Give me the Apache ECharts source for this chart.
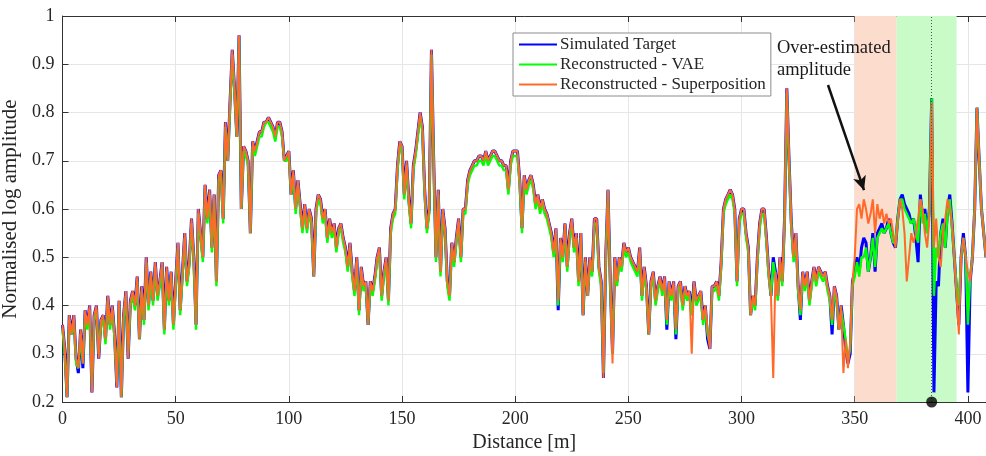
<!DOCTYPE html>
<html>
<head>
<meta charset="utf-8">
<script src="https://cdn.jsdelivr.net/npm/echarts@6/dist/echarts.min.js"></script>
<style>
html,body{margin:0;padding:0;background:#fff;}
#chart{width:986px;height:456px;}
</style>
</head>
<body>
<div id="chart"></div>
<script>
// Sampling step of the profiles (metres per sample)
const stepMetres = 1;

// Simulated Target (blue)
const simulatedTarget = [
0.36,0.31,0.21,0.38,0.34,0.38,0.29,0.26,0.35,0.27,
0.39,0.36,0.40,0.22,0.38,0.40,0.29,0.37,0.38,0.33,
0.42,0.36,0.40,0.34,0.23,0.41,0.21,0.38,0.43,0.29,
0.41,0.43,0.40,0.46,0.33,0.44,0.37,0.50,0.40,0.47,
0.41,0.49,0.42,0.45,0.49,0.35,0.48,0.41,0.47,0.36,
0.45,0.53,0.39,0.47,0.55,0.45,0.49,0.58,0.50,0.36,
0.60,0.55,0.50,0.65,0.58,0.64,0.52,0.63,0.45,0.67,
0.68,0.58,0.78,0.70,0.82,0.93,0.85,0.75,0.96,0.60,
0.73,0.72,0.70,0.55,0.74,0.72,0.74,0.76,0.76,0.78,
0.78,0.79,0.78,0.77,0.75,0.78,0.78,0.76,0.70,0.71,
0.72,0.63,0.68,0.60,0.66,0.61,0.56,0.61,0.56,0.60,
0.58,0.46,0.60,0.63,0.62,0.58,0.60,0.54,0.58,0.55,
0.57,0.52,0.56,0.57,0.54,0.52,0.48,0.53,0.47,0.43,
0.50,0.39,0.48,0.44,0.45,0.36,0.45,0.43,0.46,0.50,
0.52,0.42,0.47,0.50,0.41,0.56,0.59,0.60,0.69,0.74,
0.73,0.63,0.70,0.62,0.57,0.69,0.72,0.76,0.80,0.77,
0.64,0.56,0.60,0.93,0.70,0.50,0.64,0.47,0.60,0.56,
0.45,0.42,0.53,0.49,0.54,0.58,0.50,0.60,0.60,0.66,
0.68,0.69,0.70,0.70,0.71,0.71,0.70,0.72,0.70,0.71,
0.72,0.72,0.71,0.70,0.70,0.69,0.69,0.64,0.70,0.72,
0.72,0.72,0.66,0.56,0.67,0.64,0.66,0.67,0.65,0.61,
0.63,0.60,0.62,0.60,0.59,0.57,0.55,0.51,0.56,0.39,
0.54,0.50,0.57,0.48,0.55,0.58,0.52,0.55,0.45,0.55,
0.38,0.50,0.42,0.50,0.47,0.58,0.58,0.48,0.45,0.25,
0.50,0.64,0.45,0.30,0.50,0.45,0.50,0.48,0.53,0.51,
0.52,0.50,0.49,0.48,0.47,0.52,0.42,0.48,0.44,0.34,
0.45,0.47,0.41,0.44,0.46,0.43,0.46,0.35,0.45,0.42,
0.45,0.33,0.44,0.45,0.40,0.44,0.42,0.43,0.38,0.45,
0.41,0.42,0.43,0.37,0.40,0.33,0.31,0.44,0.44,0.45,
0.42,0.49,0.60,0.62,0.63,0.64,0.63,0.60,0.45,0.58,
0.60,0.60,0.55,0.52,0.38,0.42,0.40,0.50,0.57,0.60,
0.60,0.54,0.47,0.42,0.50,0.47,0.42,0.50,0.45,0.58,
0.85,0.70,0.57,0.50,0.55,0.44,0.37,0.47,0.44,0.47,
0.41,0.45,0.48,0.45,0.48,0.47,0.46,0.47,0.44,0.42,
0.34,0.44,0.42,0.35,0.40,0.36,0.31,0.28,0.30,0.45,
0.47,0.50,0.47,0.52,0.54,0.53,0.47,0.50,0.55,0.47,
0.55,0.56,0.57,0.55,0.56,0.58,0.55,0.53,0.52,0.58,
0.62,0.63,0.61,0.60,0.59,0.57,0.58,0.54,0.49,0.63,
0.58,0.60,0.55,0.60,0.83,0.22,0.45,0.44,0.55,0.58,
0.52,0.60,0.63,0.57,0.50,0.43,0.36,0.50,0.55,0.50,
0.22,0.45,0.50,0.60,0.81,0.70,0.60,0.55,0.50
];

// Reconstructed - VAE (green)
const reconstructedVAE = [
0.35,0.30,0.21,0.37,0.34,0.37,0.28,0.27,0.34,0.28,
0.38,0.35,0.39,0.23,0.37,0.39,0.30,0.36,0.37,0.32,
0.41,0.35,0.39,0.33,0.24,0.40,0.21,0.37,0.42,0.30,
0.40,0.42,0.39,0.45,0.33,0.43,0.36,0.49,0.39,0.46,
0.40,0.48,0.41,0.44,0.48,0.34,0.47,0.40,0.46,0.35,
0.44,0.52,0.38,0.46,0.54,0.44,0.48,0.57,0.49,0.35,
0.59,0.54,0.49,0.64,0.57,0.63,0.51,0.62,0.44,0.66,
0.67,0.57,0.77,0.70,0.81,0.92,0.84,0.75,0.95,0.60,
0.72,0.71,0.69,0.55,0.73,0.71,0.73,0.75,0.75,0.77,
0.78,0.78,0.77,0.76,0.74,0.77,0.77,0.75,0.70,0.70,
0.71,0.63,0.67,0.59,0.65,0.60,0.55,0.60,0.55,0.59,
0.57,0.46,0.59,0.62,0.61,0.57,0.59,0.53,0.57,0.54,
0.56,0.51,0.55,0.56,0.53,0.51,0.47,0.52,0.46,0.42,
0.49,0.38,0.47,0.43,0.44,0.36,0.44,0.42,0.45,0.49,
0.51,0.41,0.46,0.49,0.40,0.55,0.58,0.59,0.68,0.73,
0.72,0.62,0.69,0.61,0.56,0.68,0.71,0.75,0.79,0.76,
0.63,0.55,0.59,0.92,0.69,0.49,0.63,0.46,0.59,0.55,
0.44,0.41,0.52,0.48,0.53,0.57,0.49,0.59,0.59,0.65,
0.67,0.68,0.69,0.69,0.70,0.70,0.69,0.71,0.69,0.70,
0.71,0.71,0.70,0.69,0.69,0.68,0.68,0.63,0.69,0.71,
0.71,0.71,0.65,0.55,0.66,0.63,0.65,0.66,0.64,0.60,
0.62,0.59,0.61,0.59,0.58,0.56,0.54,0.50,0.55,0.40,
0.53,0.49,0.56,0.47,0.54,0.57,0.51,0.54,0.44,0.54,
0.38,0.49,0.42,0.49,0.46,0.57,0.57,0.47,0.44,0.26,
0.49,0.63,0.44,0.30,0.49,0.44,0.49,0.47,0.52,0.50,
0.51,0.49,0.48,0.47,0.46,0.51,0.41,0.47,0.43,0.34,
0.44,0.46,0.40,0.43,0.45,0.42,0.45,0.36,0.44,0.41,
0.44,0.34,0.43,0.44,0.39,0.43,0.41,0.42,0.38,0.44,
0.40,0.41,0.42,0.36,0.39,0.34,0.32,0.43,0.43,0.44,
0.41,0.48,0.59,0.61,0.62,0.63,0.62,0.59,0.44,0.57,
0.59,0.59,0.54,0.51,0.38,0.41,0.39,0.49,0.56,0.59,
0.59,0.53,0.46,0.42,0.49,0.46,0.41,0.49,0.44,0.57,
0.84,0.69,0.56,0.49,0.54,0.43,0.38,0.46,0.43,0.46,
0.40,0.44,0.47,0.44,0.47,0.46,0.45,0.46,0.43,0.41,
0.36,0.43,0.41,0.35,0.39,0.36,0.33,0.29,0.31,0.44,
0.46,0.49,0.46,0.50,0.50,0.52,0.47,0.50,0.54,0.48,
0.54,0.55,0.56,0.55,0.56,0.57,0.55,0.53,0.53,0.58,
0.62,0.62,0.60,0.59,0.58,0.57,0.58,0.55,0.53,0.62,
0.57,0.59,0.55,0.60,0.83,0.42,0.52,0.50,0.55,0.57,
0.52,0.59,0.62,0.56,0.50,0.44,0.40,0.50,0.54,0.50,
0.36,0.46,0.50,0.60,0.81,0.70,0.60,0.55,0.50
];

// Reconstructed - Superposition (orange)
const reconstructedSuperposition = [
0.36,0.31,0.21,0.38,0.34,0.38,0.29,0.27,0.35,0.28,
0.39,0.36,0.40,0.22,0.38,0.40,0.29,0.37,0.38,0.33,
0.42,0.36,0.40,0.34,0.23,0.41,0.21,0.38,0.43,0.29,
0.41,0.43,0.40,0.46,0.33,0.44,0.37,0.50,0.40,0.47,
0.41,0.49,0.42,0.45,0.49,0.35,0.48,0.41,0.47,0.36,
0.45,0.53,0.39,0.47,0.55,0.45,0.49,0.58,0.50,0.36,
0.60,0.55,0.50,0.65,0.58,0.64,0.52,0.63,0.45,0.67,
0.68,0.58,0.78,0.70,0.82,0.93,0.85,0.75,0.96,0.60,
0.73,0.72,0.70,0.55,0.74,0.72,0.74,0.76,0.76,0.78,
0.78,0.79,0.78,0.77,0.75,0.78,0.78,0.76,0.70,0.71,
0.72,0.63,0.68,0.60,0.66,0.61,0.56,0.61,0.56,0.60,
0.58,0.46,0.60,0.63,0.62,0.58,0.60,0.54,0.58,0.55,
0.57,0.52,0.56,0.57,0.54,0.52,0.48,0.53,0.47,0.43,
0.50,0.39,0.48,0.44,0.45,0.36,0.45,0.43,0.46,0.50,
0.52,0.42,0.47,0.50,0.41,0.56,0.59,0.60,0.69,0.74,
0.73,0.63,0.70,0.62,0.57,0.69,0.72,0.76,0.80,0.77,
0.64,0.56,0.60,0.93,0.70,0.50,0.64,0.47,0.60,0.56,
0.45,0.42,0.53,0.49,0.54,0.58,0.50,0.60,0.60,0.66,
0.68,0.69,0.70,0.70,0.71,0.71,0.70,0.72,0.70,0.71,
0.72,0.72,0.71,0.70,0.70,0.69,0.69,0.64,0.70,0.72,
0.72,0.72,0.66,0.56,0.67,0.64,0.66,0.67,0.65,0.61,
0.63,0.60,0.62,0.60,0.59,0.57,0.55,0.51,0.56,0.41,
0.54,0.50,0.57,0.48,0.55,0.58,0.52,0.55,0.45,0.55,
0.38,0.50,0.42,0.50,0.47,0.58,0.58,0.48,0.45,0.25,
0.50,0.64,0.45,0.28,0.50,0.45,0.50,0.48,0.53,0.51,
0.52,0.50,0.49,0.48,0.47,0.52,0.42,0.48,0.44,0.34,
0.45,0.47,0.41,0.44,0.46,0.43,0.46,0.37,0.45,0.42,
0.45,0.35,0.44,0.45,0.40,0.44,0.42,0.43,0.30,0.45,
0.41,0.42,0.43,0.37,0.40,0.35,0.31,0.44,0.44,0.45,
0.42,0.49,0.60,0.62,0.63,0.64,0.63,0.60,0.45,0.58,
0.60,0.60,0.55,0.52,0.38,0.42,0.40,0.50,0.57,0.60,
0.60,0.54,0.47,0.42,0.25,0.47,0.42,0.50,0.45,0.58,
0.85,0.70,0.57,0.50,0.55,0.44,0.39,0.47,0.44,0.47,
0.41,0.45,0.48,0.45,0.48,0.47,0.46,0.47,0.44,0.42,
0.37,0.44,0.42,0.35,0.40,0.26,0.33,0.27,0.32,0.45,
0.50,0.60,0.61,0.58,0.62,0.60,0.57,0.59,0.62,0.55,
0.61,0.58,0.60,0.57,0.59,0.57,0.58,0.55,0.52,0.57,
0.62,0.60,0.55,0.45,0.50,0.55,0.53,0.55,0.58,0.62,
0.60,0.55,0.52,0.58,0.82,0.52,0.58,0.50,0.48,0.55,
0.58,0.62,0.60,0.57,0.50,0.42,0.34,0.50,0.54,0.50,
0.47,0.45,0.50,0.60,0.81,0.70,0.60,0.55,0.50
];

// Axis settings / ticks
const xTicks = [0, 50, 100, 150, 200, 250, 300, 350, 400];
const yTicks = [0.2, 0.3, 0.4, 0.5, 0.6, 0.7, 0.8, 0.9, 1];

// Highlighted regions (distance in m)
const overEstimatedRegion = [350, 368.5];
const vaeRegion = [368.5, 395];
// Target of interest marker
const targetMarkerDistance = 383.7;
const targetMarkerPoint = [[384, 0.2]];
// Annotation arrow (distance, amplitude) start -> end
const arrowStart = [338.2, 0.857];
const arrowEnd = [354.1, 0.639];

const seriesNames = ['Simulated Target', 'Reconstructed - VAE', 'Reconstructed - Superposition'];

const toPairs = arr => arr.map((v, i) => [i * stepMetres, v]);

const serif = 'Liberation Serif';
const chart = echarts.init(document.getElementById('chart'), null, {renderer: 'canvas'});

const axisColor = '#333333';
const gridColor = '#e6e6e6';

chart.setOption({
  animation: false,
  backgroundColor: '#ffffff',
  grid: {left: 62.5, right: 0, top: 16, bottom: 54, containLabel: false, outerBoundsMode: 'none'},
  legend: {
    data: seriesNames,
    orient: 'vertical',
    left: 513, top: 33,
    backgroundColor: '#ffffff',
    borderColor: '#8c8c8c', borderWidth: 1,
    padding: [2, 5, 2, 5],
    itemGap: 1,
    itemWidth: 38, itemHeight: 14,
    itemStyle: {opacity: 0},
    textStyle: {fontFamily: serif, fontSize: 17, color: '#262626', lineHeight: 19, padding: [0,0,0,-2]}
  },
  xAxis: [{
    type: 'value', min: 0, max: 408, interval: 50,
    name: 'Distance [m]', nameLocation: 'middle', nameGap: 31,
    nameTextStyle: {fontFamily: serif, fontSize: 20, color: '#262626'},
    axisLine: {show: true, lineStyle: {color: axisColor, width: 1}},
    axisTick: {show: true, inside: true, length: 6, lineStyle: {color: axisColor}},
    axisLabel: {fontFamily: serif, fontSize: 18, color: '#262626', margin: 8,
      showMaxLabel: false},
    splitLine: {show: true, lineStyle: {color: gridColor, width: 1}}
  }, {
    type: 'value', min: 0, max: 408, interval: 50, position: 'top',
    axisLine: {show: true, onZero: false, lineStyle: {color: axisColor, width: 1}},
    axisTick: {show: true, inside: true, length: 6, lineStyle: {color: axisColor}},
    axisLabel: {show: false},
    splitLine: {show: false}
  }],
  yAxis: {
    type: 'value', min: 0.2, max: 1, interval: 0.1,
    name: 'Normalised log amplitude', nameLocation: 'middle', nameGap: 34,
    nameTextStyle: {fontFamily: serif, fontSize: 21, color: '#262626'},
    axisLine: {show: true, lineStyle: {color: axisColor, width: 1}},
    axisTick: {show: true, inside: true, length: 6, lineStyle: {color: axisColor}},
    axisLabel: {fontFamily: serif, fontSize: 18, color: '#262626', margin: 8,
      formatter: v => (Math.abs(v - 1) < 1e-9 ? '1' : (Math.round(v * 10) / 10).toString())},
    splitLine: {show: true, lineStyle: {color: gridColor, width: 1}}
  },
  graphic: [{
    type: 'text', left: 777, top: 37, z: 100,
    style: {text: 'Over-estimated\namplitude', font: '18.5px "Liberation Serif"', fill: '#1a1a1a', lineHeight: 22}
  }],
  series: [
    {
      name: 'regions', type: 'line', data: [], z: 1, silent: true,
      markArea: {
        silent: true,
        data: [
          [{xAxis: overEstimatedRegion[0], itemStyle: {color: '#fcdccd'}}, {xAxis: overEstimatedRegion[1]}],
          [{xAxis: vaeRegion[0], itemStyle: {color: '#c9fbc9'}}, {xAxis: vaeRegion[1]}]
        ]
      },
      markLine: {
        silent: true, symbol: ['none', 'none'], label: {show: false},
        lineStyle: {color: '#555555', type: [1, 2], width: 1},
        data: [{xAxis: targetMarkerDistance}]
      }
    },
    {
      name: seriesNames[0], type: 'line', data: toPairs(simulatedTarget), z: 2,
      showSymbol: false, symbol: 'none', color: '#0000ff',
      lineStyle: {color: '#0000ff', width: 3}
    },
    {
      name: seriesNames[1], type: 'line', data: toPairs(reconstructedVAE), z: 3,
      showSymbol: false, symbol: 'none', color: '#00ff00',
      lineStyle: {color: '#00ff00', width: 2.4}
    },
    {
      name: seriesNames[2], type: 'line', data: toPairs(reconstructedSuperposition), z: 4,
      showSymbol: false, symbol: 'none', color: '#ff6a2a',
      lineStyle: {color: '#ff6a2a', width: 2},
      markLine: {
        silent: true, symbol: ['none', 'arrow'], symbolSize: [10, 14], label: {show: false},
        lineStyle: {color: '#111111', type: 'solid', width: 2.5},
        data: [[{coord: arrowStart}, {coord: arrowEnd}]]
      }
    },
    {
      name: 'marker', type: 'scatter', data: targetMarkerPoint, z: 10, clip: false,
      symbolSize: 11, itemStyle: {color: '#000000'}, silent: true
    }
  ]
});
</script>
</body>
</html>
